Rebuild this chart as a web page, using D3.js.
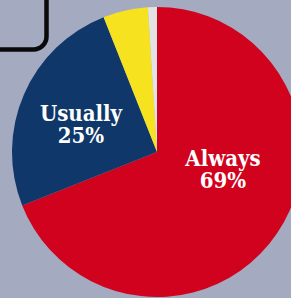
<!DOCTYPE html>
<html>
<head>
<meta charset="utf-8">
<script src="https://cdn.jsdelivr.net/npm/d3@7"></script>
<style>
  html, body { margin: 0; padding: 0; background: #a4abc0; overflow: hidden; }
  svg { display: block; }
</style>
</head>
<body>
<script>
// answer shares, clockwise from 12 o'clock
let categories = ["Always", "Usually", "Sometimes", "Never"]
let values = [69, 25, 5, 1]
let colors = ["#d0021d", "#103769", "#f7e21f", "#e3e3e3"]
let showLabel = [true, true, false, false]

let w = 291
let h = 298
let cx = 157, cy = 152, r = 145

let dataset = categories.map((c, i) => ({name: c, value: values[i], color: colors[i], label: showLabel[i]}))

let svg = d3.select('body')
    .append('svg')
    .attr('width', w)
    .attr('height', h)

svg.append('rect')
    .attr('width', w).attr('height', h)
    .attr('fill', '#a4abc0')

// black rounded frame poking in at the top-left
svg.append('rect')
    .attr('x', -30).attr('y', -30)
    .attr('width', 76.5).attr('height', 79.5)
    .attr('rx', 13).attr('ry', 13)
    .attr('fill', 'none')
    .attr('stroke', '#0a0a0a')
    .attr('stroke-width', 4.5)

let pie = d3.pie().sort(null).value(d => d.value)
let arc = d3.arc().innerRadius(0).outerRadius(r)

let g = svg.append('g').attr('transform', `translate(${cx},${cy})`)

g.selectAll('path')
    .data(pie(dataset)).enter().append('path')
    .attr('d', arc)
    .attr('fill', d => d.data.color)

// label positions (offset from centre)
let labelPos = {Always: [66, 14], Usually: [-76, -31]}

let labels = g.selectAll('text.lbl')
    .data(pie(dataset).filter(d => d.data.label))
    .enter().append('text')
    .attr('class', 'lbl')
    .attr('text-anchor', 'middle')
    .attr('fill', '#ffffff')
    .attr('font-family', '"DejaVu Serif Condensed", "DejaVu Serif", serif')
    .attr('font-stretch', 'condensed')
    .attr('font-weight', 'bold')
    .attr('font-size', 22)
    .attr('transform', d => `translate(${labelPos[d.data.name][0]},${labelPos[d.data.name][1]})`)

labels.append('tspan').attr('x', 0).attr('y', 0).text(d => d.data.name)
labels.append('tspan').attr('x', 0).attr('y', 22).text(d => d.data.value + '%')
</script>
</body>
</html>
